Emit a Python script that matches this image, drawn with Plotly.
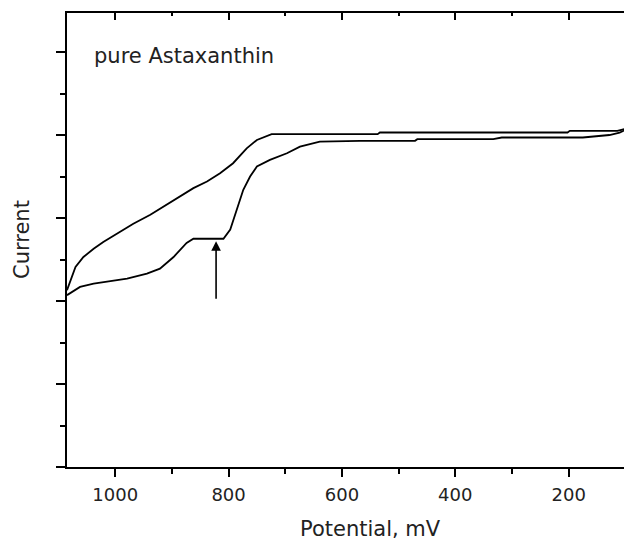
import plotly.graph_objects as go

# ---- data ----
upper_x = [1085, 1079, 1070, 1056, 1038, 1021, 997, 968, 938, 915, 891, 862, 838,
           815, 792, 768, 750, 724, 537, 533, 202, 198, 114, 90]
upper_y = [2.13, 2.25, 2.41, 2.53, 2.63, 2.71, 2.81, 2.93, 3.04, 3.14, 3.24, 3.36, 3.44,
           3.54, 3.66, 3.84, 3.94, 4.01, 4.01, 4.03, 4.03, 4.05, 4.05, 4.09]

lower_x = [1085, 1062, 1038, 1009, 979, 944, 921, 897, 874, 862, 809, 797, 786, 774,
           762, 750, 727, 697, 674, 639, 568, 471, 467, 333, 318, 175, 128, 110, 90]
lower_y = [2.07, 2.17, 2.21, 2.24, 2.27, 2.33, 2.39, 2.53, 2.70, 2.75, 2.75, 2.86, 3.10, 3.34,
           3.50, 3.62, 3.70, 3.78, 3.86, 3.92, 3.93, 3.93, 3.95, 3.95, 3.97, 3.97, 4.00, 4.03, 4.09]

x_range = [1085, 90]
y_range = [0, 5.47]
x_tickvals = [1000, 800, 600, 400, 200]
x_ticktext = ["1000", "800", "600", "400", "200"]

arrow_x = 822
arrow_tail_y = 2.01
arrow_tip_y = 2.72

label_text = "pure Astaxanthin"
label_x = 878
label_y = 4.95

x_title = "Potential, mV"
y_title = "Current"

# ---- figure ----
line_style = dict(color="black", width=1.8)
fig = go.Figure()
fig.add_trace(go.Scatter(x=upper_x, y=upper_y, mode="lines", line=line_style,
                         showlegend=False, hoverinfo="skip"))
fig.add_trace(go.Scatter(x=lower_x, y=lower_y, mode="lines", line=line_style,
                         showlegend=False, hoverinfo="skip"))
fig.add_trace(go.Scatter(x=[], y=[], xaxis="x2", showlegend=False))
fig.add_trace(go.Scatter(x=[], y=[], yaxis="y2", showlegend=False))

tickfont = dict(family="DejaVu Sans", size=18, color="#222")

# the page body adds an 8px margin, so the figure is 8px smaller than the window
fig.update_layout(
    width=624, height=536,
    margin=dict(l=59, r=1, t=5, b=77),
    paper_bgcolor="white", plot_bgcolor="white",
    xaxis=dict(
        range=x_range, showgrid=False, zeroline=False,
        showline=True, linecolor="black", linewidth=2,
        ticks="outside", ticklen=8, tickwidth=2, tickcolor="black",
        tickvals=x_tickvals, ticktext=x_ticktext, tickfont=tickfont,
        ticklabelstandoff=2,
        minor=dict(dtick=100, tick0=0, ticks="outside", ticklen=5, tickwidth=2,
                   tickcolor="black", showgrid=False),
    ),
    xaxis2=dict(
        range=x_range, overlaying="x", side="top", anchor="y",
        showgrid=False, zeroline=False,
        showline=True, linecolor="black", linewidth=2,
        ticks="inside", ticklen=7, tickwidth=2, tickcolor="black",
        tickvals=x_tickvals, showticklabels=False,
        minor=dict(dtick=100, tick0=0, ticks="inside", ticklen=3, tickwidth=2,
                   tickcolor="black", showgrid=False),
    ),
    yaxis=dict(
        range=y_range, showgrid=False, zeroline=False,
        showline=True, linecolor="black", linewidth=2,
        ticks="outside", ticklen=9, tickwidth=2, tickcolor="black",
        dtick=1, tick0=0, showticklabels=False,
        minor=dict(dtick=0.5, tick0=0, ticks="outside", ticklen=5, tickwidth=2,
                   tickcolor="black", showgrid=False),
    ),
    yaxis2=dict(
        range=y_range, overlaying="y", side="right", anchor="x",
        showgrid=False, zeroline=False, showticklabels=False, ticks="",
        showline=True, linecolor="#b4b4b4", linewidth=1,
    ),
    annotations=[
        dict(x=label_x, y=label_y, xref="x", yref="y", text=label_text,
             showarrow=False, xanchor="center", yanchor="middle",
             font=dict(family="DejaVu Sans", size=21, color="#222")),
        dict(x=arrow_x, y=arrow_tip_y, ax=arrow_x, ay=arrow_tail_y,
             xref="x", yref="y", axref="x", ayref="y", text="",
             showarrow=True, arrowhead=2, arrowsize=1.2, arrowwidth=1.6,
             arrowcolor="black"),
        dict(x=0.538, y=0, xref="paper", yref="paper", text=x_title,
             showarrow=False, xanchor="center", yanchor="middle", yshift=-62,
             font=dict(family="DejaVu Sans", size=21, color="#222")),
        dict(x=0, y=0.5, xref="paper", yref="paper", text=y_title,
             showarrow=False, xanchor="center", yanchor="middle", xshift=-45,
             textangle=-90,
             font=dict(family="DejaVu Sans", size=21, color="#222")),
    ],
)

fig.write_html("out.html")
